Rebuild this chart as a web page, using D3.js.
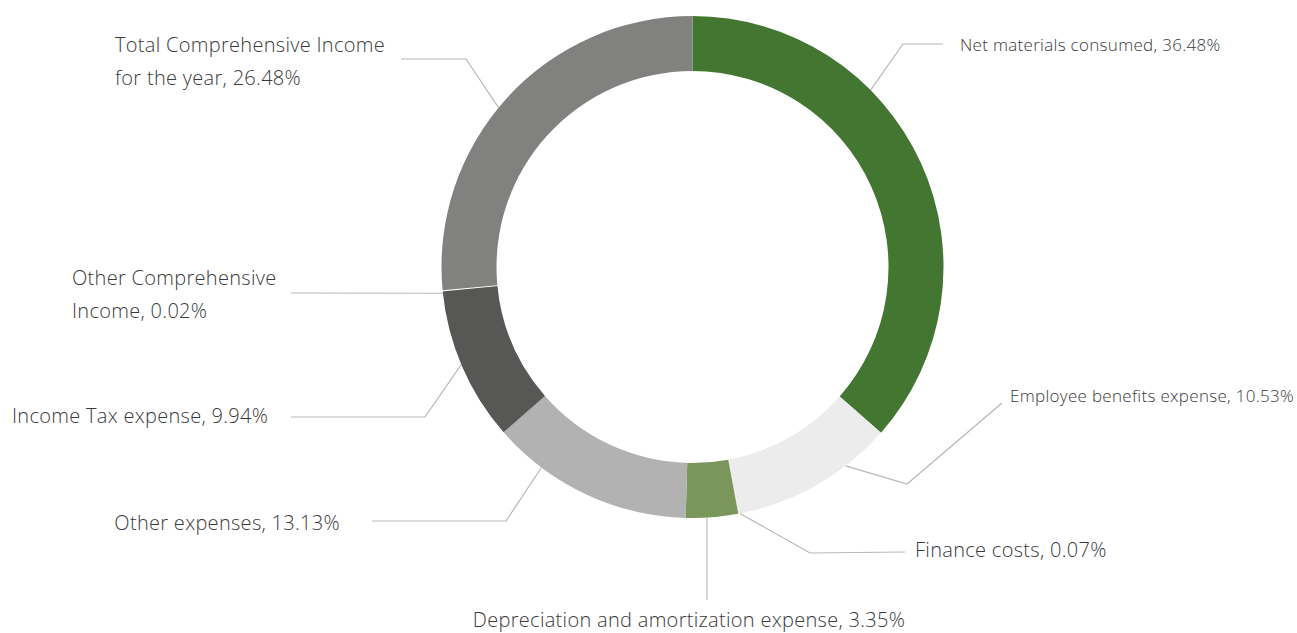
<!DOCTYPE html>
<html>
<head>
<meta charset="utf-8">
<script src="https://cdn.jsdelivr.net/npm/d3@7"></script>
<style>
  html, body { margin: 0; padding: 0; background: #fff; }
  text { font-family: "Open Sans", Roboto, "Liberation Sans", sans-serif; font-weight: 300; fill: #3a3a3a; letter-spacing: 0.3px; }
</style>
</head>
<body>
<div id="chart"></div>
<script>
// data (clockwise from 12 o'clock)
const categories = [
  "Net materials consumed",
  "Employee benefits expense",
  "Finance costs",
  "Depreciation and amortization expense",
  "Other expenses",
  "Income Tax expense",
  "Other Comprehensive Income",
  "Total Comprehensive Income for the year"
];
const shares = [36.48, 10.53, 0.07, 3.35, 13.13, 9.94, 0.02, 26.48];
const colors = ["#437731", "#ececec", "#ececec", "#7b965b", "#b2b2b2", "#575755", "#ffffff", "#818180"];

// label layout: text lines, anchor, leader line (attach angle on ring, elbow, end)
const labelLayout = [
  { lines: ["Net materials consumed, 36.48%"], x: 960, y: 45, anchor: "start", size: 17, attach: 45.2, elbow: [903, 44], end: [943, 44] },
  { lines: ["Employee benefits expense, 10.53%"], x: 1010, y: 396, anchor: "start", size: 17, attach: 142.4, elbow: [907, 484], end: [1002, 403] },
  { lines: ["Finance costs, 0.07%"], x: 915, y: 550, anchor: "start", size: 20, attach: 169.1, elbow: [810, 553], end: [905, 552] },
  { lines: ["Depreciation and amortization expense, 3.35%"], x: 689, y: 620, anchor: "middle", size: 20, attach: 176.7, elbow: [707, 600], end: [707, 600] },
  { lines: ["Other expenses, 13.13%"], x: 340, y: 523, anchor: "end", size: 20, attach: 217, elbow: [506, 521], end: [372, 521] },
  { lines: ["Income Tax expense, 9.94%"], x: 12, y: 416, anchor: "start", size: 20, attach: 247.1, elbow: [425, 417], end: [291, 417] },
  { lines: ["Other Comprehensive", "Income, 0.02%"], x: 72, y: 278, anchor: "start", size: 20, attach: 264, elbow: [291, 293], end: [291, 293] },
  { lines: ["Total Comprehensive Income", "for the year, 26.48%"], x: 115, y: 45, anchor: "start", size: 20, attach: 309.4, elbow: [466, 59], end: [401, 59] }
];

const width = 1297, height = 633;
const cx = 692.5, cy = 267;
const outerR = 251, innerR = 196;

const svg = d3.select("#chart")
  .append("svg")
  .attr("width", width)
  .attr("height", height);

const g = svg.append("g")
  .attr("transform", "translate(" + cx + "," + cy + ")");

const slices = categories.map((c, i) => ({ name: c, value: shares[i], color: colors[i] }));

const pie = d3.pie()
  .value(d => d.value)
  .sort(null);

const arc = d3.arc()
  .innerRadius(innerR)
  .outerRadius(outerR);

g.selectAll(".slice")
  .data(pie(slices))
  .enter()
  .append("path")
  .attr("class", "slice")
  .attr("d", arc)
  .attr("fill", d => d.data.color)
  .attr("stroke", d => d.data.name === "Other Comprehensive Income" ? "#ffffff" : "none")
  .attr("stroke-width", 1.5);

// leader lines
const angleToPoint = deg => {
  const a = deg * Math.PI / 180;
  return [cx + outerR * Math.sin(a), cy - outerR * Math.cos(a)];
};

svg.selectAll(".leader")
  .data(labelLayout)
  .enter()
  .append("polyline")
  .attr("class", "leader")
  .attr("points", d => [angleToPoint(d.attach), d.elbow, d.end].map(p => p.join(",")).join(" "))
  .attr("fill", "none")
  .attr("stroke", "#b8b8b8")
  .attr("stroke-width", 1.2);

// labels
const lineGap = 33;
const labels = svg.selectAll(".label")
  .data(labelLayout)
  .enter()
  .append("text")
  .attr("class", "label")
  .attr("text-anchor", d => d.anchor)
  .style("font-size", d => d.size + "px");

labels.selectAll("tspan")
  .data(d => d.lines.map((t, i) => ({ t, i, d })))
  .enter()
  .append("tspan")
  .attr("x", o => o.d.x)
  .attr("y", o => o.d.y + o.i * lineGap)
  .attr("dy", "0.35em")
  .text(o => o.t);
</script>
</body>
</html>
